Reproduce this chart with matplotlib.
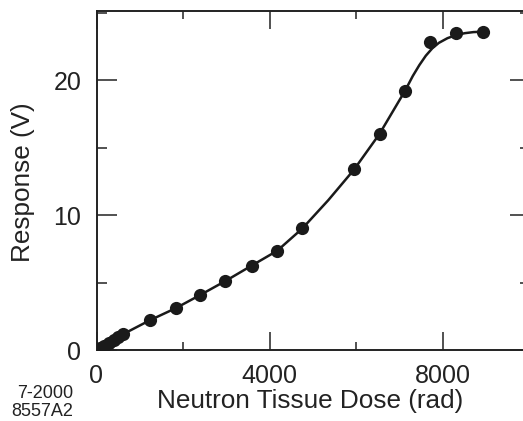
import numpy as np
import matplotlib
matplotlib.use("Agg")
import matplotlib.pyplot as plt
from matplotlib.ticker import MultipleLocator

plt.rcParams['font.family'] = ['Liberation Sans', 'DejaVu Sans']

# measured points (dose in rad, response in V)
dose = [80, 170, 280, 400, 500, 620, 1230, 1834, 2391, 2968, 3583, 4175, 4751,
        5943, 6536, 7120, 7705, 8304, 8919]
resp = [0.15, 0.33, 0.52, 0.74, 0.95, 1.2, 2.22, 3.09, 4.07, 5.11, 6.25, 7.33, 9.06,
        13.38, 16.0, 19.2, 22.8, 23.5, 23.58]

# fitted curve
fit_dose = [0, 600, 1230, 1830, 2390, 2970, 3580, 4170, 4750, 5350, 5940, 6530,
            7120, 7300, 7450, 7600, 7750, 7900, 8100, 8300, 8500, 8700, 8900]
fit_resp = [0, 1.15, 2.2, 3.1, 4.07, 5.1, 6.25, 7.35, 9.0, 11.1, 13.35, 16.0,
            19.2, 20.3, 21.1, 21.8, 22.35, 22.75, 23.1, 23.33, 23.47, 23.55, 23.58]

fig = plt.figure(figsize=(5.23, 4.21), dpi=100)
W, H = 523.0, 421.0
ax = fig.add_axes([96.5 / W, (H - 350) / H, 433.3 / W, 339.5 / H])

ax.plot(fit_dose, fit_resp, color='#1a1a1a', lw=1.8, solid_joinstyle='round', zorder=2)
ax.plot(dose, resp, 'o', color='#1a1a1a', ms=9.5, mew=0, zorder=3)

ax.set_xlim(0, 10000)
ax.set_ylim(0, 25.15)
ax.xaxis.set_major_locator(MultipleLocator(4000))
ax.xaxis.set_minor_locator(MultipleLocator(2000))
ax.yaxis.set_major_locator(MultipleLocator(10))
ax.yaxis.set_minor_locator(MultipleLocator(5))

for s in ax.spines.values():
    s.set_linewidth(1.4)
    s.set_color('#222222')

ax.tick_params(axis='x', which='major', direction='in', length=13, width=1.1,
               top=True, labelsize=18, pad=10, colors='#222222')
ax.tick_params(axis='x', which='minor', direction='in', length=6, width=1.1, top=True,
               colors='#222222')
ax.tick_params(axis='y', which='major', direction='in', length=14.5, width=1.1,
               right=True, labelsize=18, pad=11, colors='#222222')
ax.tick_params(axis='y', which='minor', direction='in', length=7, width=1.1, right=True,
               colors='#222222')

fig.text(310 / W, 1 - 401 / H, 'Neutron Tissue Dose (rad)', fontsize=18.8,
         ha='center', va='center', color='#222222')
fig.text(23 / W, 1 - 182 / H, 'Response (V)', fontsize=18.8, rotation=90,
         ha='center', va='center', color='#222222')
fig.text(73 / W, 1 - 393 / H, '7-2000', fontsize=13, ha='right', va='center',
         color='#222222')
fig.text(73 / W, 1 - 411 / H, '8557A2', fontsize=13, ha='right', va='center',
         color='#222222')

fig.savefig('out.png', dpi=100)
